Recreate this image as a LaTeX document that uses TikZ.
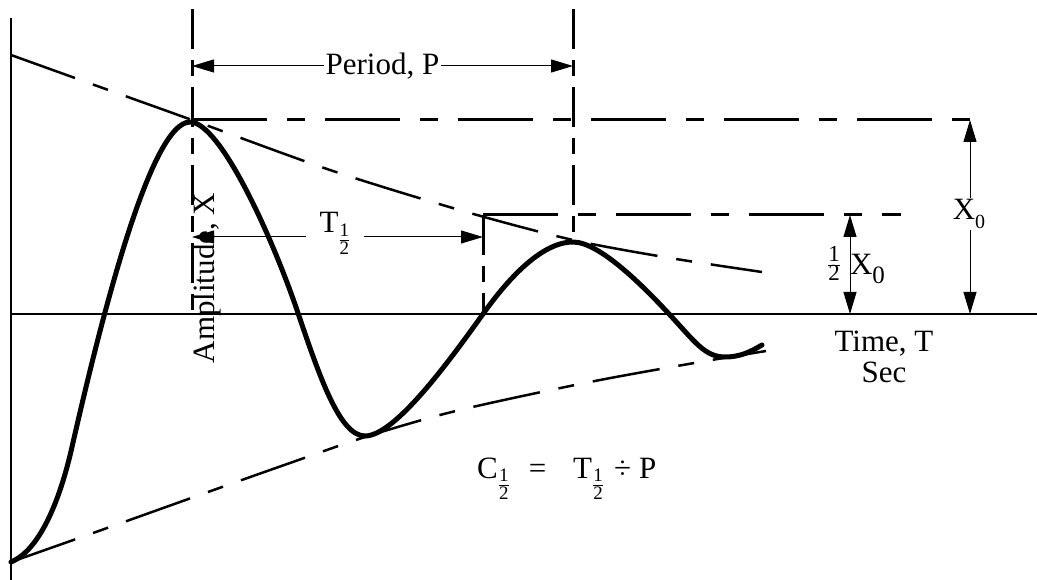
\documentclass[tikz,border=0pt]{standalone}
\usepackage{fontspec}
\setmainfont{Liberation Serif}
\usetikzlibrary{arrows.meta}
\newcommand{\hdig}[2][19]{\hbox{\fontsize{#1}{#1}\selectfont #2}}
\newcommand{\half}{$\frac{\hdig{1}}{\hdig{2}}$}
\newcommand{\halfbig}{\raisebox{4pt}{$\frac{\hdig[23]{1}}{\hdig[23]{2}}$}}
\newcommand{\halfsub}{\raisebox{-0.42em}{\half}}
\newcommand{\lowsub}[2][20]{\raisebox{-0.26em}{\fontsize{#1}{#1}\selectfont #2}}

\begin{document}
\begin{tikzpicture}[x=1pt,y=-1pt]
    \tikzset{lbl/.style={font=\fontsize{31}{36}\selectfont,inner sep=2pt},
      guide/.style={line width=3pt,dash pattern=on 40pt off 11pt on 16pt off 11pt},
      hguide/.style={line width=3pt,dash pattern=on 75pt off 20pt on 18pt off 20pt},
      env/.style={line width=2.5pt,dash pattern=on 68pt off 19pt on 16pt off 19pt},
      dim/.style={line width=1pt,{Triangle[length=22pt,width=13pt]}-{Triangle[length=22pt,width=13pt]}},
      wave/.style={line width=5pt,line join=round,line cap=round}}
    \useasboundingbox (0,0) rectangle (1037,580);
    \coordinate (ytop) at (11,18);
    \coordinate (ybot) at (11,580);
    \coordinate (o) at (11,314);
    \coordinate (xend) at (1037,314);
    \draw[line width=2pt] (ytop) -- (ybot);
    \draw[line width=2pt] (o) -- (xend);
    \coordinate (g1t) at (192,9);
    \coordinate (g1b) at (192,314);
    \coordinate (g2t) at (573,9);
    \coordinate (g2b) at (573,237);
    \coordinate (g3b) at (483,314);
    \coordinate (top0) at (192,120);
    \coordinate (top1) at (986,120);
    \coordinate (half0) at (483,215);
    \coordinate (half1) at (901,215);
    \draw[guide] (g1t) -- (g1b);
    \draw[guide] (g2t) -- (g2b);
    \draw[guide] (half0) -- (g3b);
    \draw[hguide] (top0) -- (top1);
    \draw[hguide] (half0) -- (half1);
    \coordinate (p0) at (192,66);
    \coordinate (p1) at (573,66);
    \draw[dim] (p0) -- (p1) node[lbl,midway,fill=white] (per) {Period, P};
    \coordinate (t0) at (192,237);
    \coordinate (t1) at (483,237);
    \draw[dim] (t0) -- (t1);
    \node[lbl,fill=white,inner xsep=14pt,anchor=base] (thalf) at (335,233) {T\halfsub};
    \coordinate (a0) at (970,120);
    \coordinate (a1) at (970,314);
    \draw[dim] (a0) -- (a1);
    \node[lbl,fill=white,anchor=base] (xzero) at (969,220) {X\lowsub{0}};
    \coordinate (b0) at (850,215);
    \coordinate (b1) at (850,314);
    \draw[dim] (b0) -- (b1);
    \node[lbl,inner sep=0pt,anchor=base west] (xhalf) at (827,275) {\halfbig\hspace{9pt}X\lowsub[25]{0}};
    \node[lbl,inner sep=0pt,anchor=base] (time) at (884,352) {Time, T};
    \node[lbl,inner sep=0pt,anchor=base] (sec) at (884,382) {Sec};
    \node[lbl,inner sep=0pt,rotate=90,anchor=base] (amp) at (214,278) {Amplitude, X};
    \node[lbl,inner sep=0pt,anchor=base west] (chalf) at (477,478) {C\halfsub\hspace{19pt}=\hspace{27pt}T\halfsub\hspace{10pt}÷\hspace{8pt}P};
    \draw[env] plot[smooth] coordinates {(11,55) (100,87) (192,120) (330,170) (463,211) (573,240) (670,258) (762,272)};
    \draw[env] plot[smooth] coordinates {(11,562) (110,527) (208,492) (290,463) (365,437) (440,415) (504,400) (600,380) (700,362) (766,351)};
    \draw[wave] (11,562) .. controls (40,550) and (60,500) .. (72,447)
      .. controls (100,324) and (150,122) .. (190,122)
      .. controls (220,122) and (272,236) .. (298,313)
      .. controls (320,378) and (340,436) .. (365,436)
      .. controls (395,436) and (450,360) .. (483,314)
      .. controls (505,283) and (540,242) .. (573,242)
      .. controls (600,242) and (645,288) .. (670,315)
      .. controls (695,342) and (705,357) .. (725,357)
      .. controls (740,357) and (750,352) .. (762,345);
\end{tikzpicture}
\end{document}
